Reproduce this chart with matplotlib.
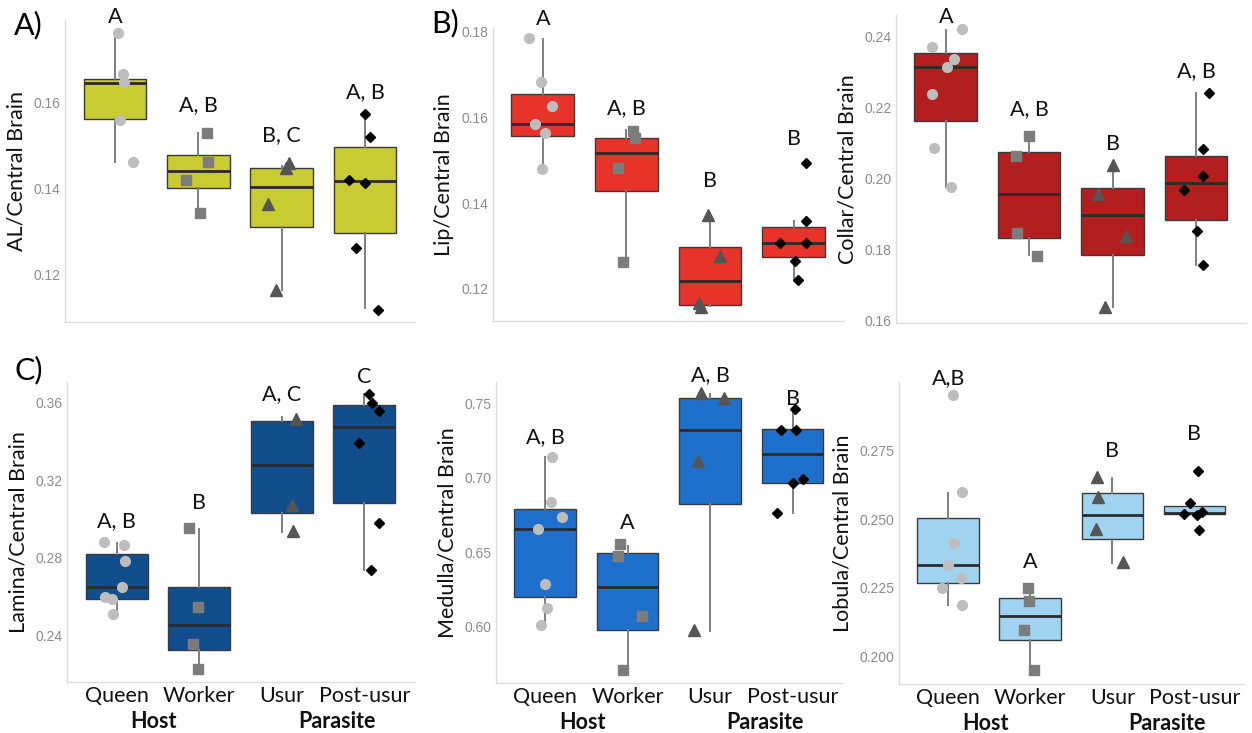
import matplotlib
matplotlib.use("Agg")
import matplotlib.pyplot as plt
import matplotlib.transforms as mtransforms

plt.rcParams['font.family'] = ['Lato', 'DejaVu Sans']

groups = ["Queen", "Worker", "Usur", "Post-usur"]

# AL / Central Brain
al_whislo = [0.1463, 0.1342, 0.1164, 0.1121]
al_q1 = [0.1563, 0.1402, 0.1311, 0.1297]
al_med = [0.1645, 0.1442, 0.1404, 0.1417]
al_q3 = [0.1655, 0.1478, 0.1449, 0.1497]
al_whishi = [0.1762, 0.1529, 0.1452, 0.1575]
al_pts = [[0.1763, 0.1668, 0.1649, 0.1561, 0.1463],
          [0.1530, 0.1461, 0.1420, 0.1342],
          [0.1459, 0.1449, 0.1365, 0.1164],
          [0.1575, 0.1521, 0.1420, 0.1414, 0.1261, 0.1118]]
al_jit = [[0.03, 0.10, 0.11, 0.06, 0.21],
          [0.10, 0.11, -0.15, 0.02],
          [0.09, 0.05, -0.16, -0.07],
          [0.0, 0.06, -0.19, 0.0, -0.11, 0.15]]
al_letters = ["A", "A, B", "B, C", "A, B"]
al_letter_y = [0.1800, 0.1595, 0.1525, 0.1626]

# Lip / Central Brain
lip_whislo = [0.1481, 0.1263, 0.1160, 0.1220]
lip_q1 = [0.1557, 0.1429, 0.1162, 0.1275]
lip_med = [0.1586, 0.1518, 0.1218, 0.1308]
lip_q3 = [0.1654, 0.1553, 0.1297, 0.1345]
lip_whishi = [0.1784, 0.1570, 0.1372, 0.1359]
lip_pts = [[0.1786, 0.1683, 0.1626, 0.1586, 0.1563, 0.1481],
           [0.1569, 0.1553, 0.1483, 0.1263],
           [0.1372, 0.1276, 0.1166, 0.1158],
           [0.1494, 0.1359, 0.1308, 0.1307, 0.1265, 0.1220]]
lip_jit = [[-0.16, -0.02, 0.11, -0.09, 0.03, -0.01],
           [0.08, 0.10, -0.10, -0.04],
           [-0.02, 0.12, -0.13, -0.11],
           [0.14, 0.14, -0.17, 0.14, 0.02, 0.05]]
lip_letters = ["A", "A, B", "B", "B"]
lip_letter_y = [0.1831, 0.1623, 0.1451, 0.1549]

# Collar / Central Brain
col_whislo = [0.1975, 0.1785, 0.1640, 0.1757]
col_q1 = [0.2161, 0.1832, 0.1785, 0.1882]
col_med = [0.2312, 0.1956, 0.1896, 0.1988]
col_q3 = [0.2351, 0.2075, 0.1974, 0.2064]
col_whishi = [0.2417, 0.2122, 0.2038, 0.2241]
col_pts = [[0.2420, 0.2368, 0.2335, 0.2312, 0.2236, 0.2085, 0.1975],
           [0.2120, 0.2063, 0.1846, 0.1783],
           [0.2038, 0.1956, 0.1839, 0.1638],
           [0.2241, 0.2083, 0.2008, 0.1968, 0.1851, 0.1757]]
col_jit = [[0.19, -0.16, 0.10, 0.01, -0.16, -0.14, 0.06],
           [0.0, -0.16, -0.15, 0.10],
           [0.01, -0.17, 0.16, -0.09],
           [0.16, 0.09, 0.09, -0.14, 0.01, 0.08]]
col_letters = ["A", "A, B", "B", "A, B"]
col_letter_y = [0.2454, 0.2194, 0.2097, 0.2302]

# Lamina / Central Brain
lam_whislo = [0.2508, 0.2228, 0.2934, 0.2736]
lam_q1 = [0.2589, 0.2322, 0.3032, 0.3083]
lam_med = [0.2650, 0.2452, 0.3281, 0.3476]
lam_q3 = [0.2822, 0.2650, 0.3507, 0.3588]
lam_whishi = [0.2879, 0.2951, 0.3528, 0.3648]
lam_pts = [[0.2880, 0.2865, 0.2782, 0.2650, 0.2598, 0.2586, 0.2508],
           [0.2956, 0.2546, 0.2357, 0.2228],
           [0.3519, 0.3071, 0.2939],
           [0.3645, 0.3600, 0.3557, 0.3393, 0.2980, 0.2736]]
lam_jit = [[-0.15, 0.09, 0.10, 0.06, -0.14, -0.06, -0.04],
           [-0.12, -0.02, -0.07, -0.02],
           [0.17, 0.12, 0.13],
           [0.05, 0.09, 0.18, -0.07, 0.18, 0.08]]
lam_letters = ["A, B", "B", "A, C", "C"]
lam_letter_y = [0.2989, 0.3083, 0.3648, 0.3734]

# Medulla / Central Brain
medu_whislo = [0.6011, 0.5709, 0.5966, 0.6761]
medu_q1 = [0.6201, 0.5973, 0.6824, 0.6969]
medu_med = [0.6654, 0.6268, 0.7321, 0.7160]
medu_q3 = [0.6788, 0.6497, 0.7538, 0.7328]
medu_whishi = [0.7142, 0.6542, 0.7567, 0.7466]
medu_pts = [[0.7142, 0.6839, 0.6739, 0.6654, 0.6286, 0.6123, 0.6011],
            [0.6555, 0.6474, 0.6067, 0.5709],
            [0.7572, 0.7538, 0.7113, 0.5977],
            [0.7466, 0.7325, 0.7321, 0.6992, 0.6963, 0.6761]]
medu_jit = [[0.09, 0.07, 0.20, -0.08, 0.0, 0.02, -0.05],
            [-0.09, -0.11, 0.17, -0.06],
            [-0.11, 0.17, -0.14, -0.19],
            [0.03, -0.14, 0.04, 0.13, 0.0, -0.19]]
medu_letters = ["A, B", "A", "A, B", "B"]
medu_letter_y = [0.7272, 0.6698, 0.7690, 0.7534]

# Lobula / Central Brain
lob_whislo = [0.2188, 0.1949, 0.2340, 0.2516]
lob_q1 = [0.2267, 0.2058, 0.2427, 0.2518]
lob_med = [0.2334, 0.2148, 0.2516, 0.2524]
lob_q3 = [0.2504, 0.2212, 0.2595, 0.2549]
lob_whishi = [0.2597, 0.2249, 0.2649, 0.2558]
lob_pts = [[0.2953, 0.2598, 0.2413, 0.2334, 0.2285, 0.2251, 0.2186],
           [0.2249, 0.2203, 0.2097, 0.1949],
           [0.2655, 0.2583, 0.2465, 0.2343],
           [0.2677, 0.2558, 0.2528, 0.2518, 0.2516, 0.2461]]
lob_jit = [[0.06, 0.17, 0.07, 0.0, 0.16, -0.07, 0.17],
           [-0.03, -0.02, -0.08, 0.05],
           [-0.18, -0.17, -0.20, 0.13],
           [0.04, -0.05, 0.10, -0.13, 0.03, 0.06]]
lob_letters = ["A,B", "A", "B", "B"]
lob_letter_y = [0.3016, 0.2343, 0.2750, 0.2813]

# marker style per group
markers = ['o', 's', '^', 'D']
mcolors = ['#BDBDBD', '#7C7C7C', '#555555', '#000000']
msizes = [7, 6.5, 8, 5.5]

W, H = 1252, 733
fig = plt.figure(figsize=(W / 100, H / 100), dpi=100)


def px_axes(left, right, top, bottom):
    return fig.add_axes([left / W, (H - bottom) / H, (right - left) / W, (bottom - top) / H])


def draw_panel(ax, whislo, q1, med, q3, whishi, pts, jit, letters, letter_y,
               color, ylim, yticks, ylabel, fmt, xlabels=False):
    stats = []
    for i in range(4):
        stats.append({'whislo': whislo[i], 'q1': q1[i], 'med': med[i],
                      'q3': q3[i], 'whishi': whishi[i], 'fliers': []})
    pos = [1, 2, 3, 4]
    ax.bxp(stats, positions=pos, widths=0.75, patch_artist=True,
           showfliers=False, showcaps=False,
           boxprops=dict(facecolor=color, edgecolor='#3a3a3a', linewidth=1.0),
           whiskerprops=dict(color='#7f7f7f', linewidth=1.4),
           medianprops=dict(color='#2b2b2b', linewidth=2.0))
    for i in range(4):
        xs = [pos[i] + j for j in jit[i]]
        ax.plot(xs, pts[i], linestyle='none', marker=markers[i],
                color=mcolors[i], markersize=msizes[i], zorder=5, clip_on=False)
        ax.text(pos[i], letter_y[i], letters[i], ha='center', va='center',
                fontsize=15.5, color='#111111', clip_on=False)
    ax.set_xlim(0.4, 4.6)
    ax.set_ylim(*ylim)
    ax.set_yticks(yticks)
    ax.set_yticklabels([fmt.format(t) for t in yticks], family='Liberation Sans',
                       fontsize=10, color='#8c8c8c')
    ax.set_ylabel(ylabel, fontsize=15.5, color='#111111', labelpad=5)
    ax.tick_params(length=0, pad=3)
    for s in ['top', 'right']:
        ax.spines[s].set_visible(False)
    for s in ['left', 'bottom']:
        ax.spines[s].set_color('#dcdcdc')
        ax.spines[s].set_linewidth(1.0)
    ax.set_xticks(pos)
    if xlabels:
        ax.set_xticklabels(groups, fontsize=15.5, color='#111111')
        ax.tick_params(axis='x', pad=3)
        trans = mtransforms.blended_transform_factory(ax.transData, ax.transAxes)
        ax.text(1.45, -0.13, "Host", transform=trans, ha='center', va='center',
                fontsize=15.5, fontweight='bold', color='#111111')
        ax.text(3.67, -0.13, "Parasite", transform=trans, ha='center', va='center',
                fontsize=15.5, fontweight='bold', color='#111111')
    else:
        ax.set_xticklabels([])


ax_a = px_axes(65, 415, 20, 322)
draw_panel(ax_a, al_whislo, al_q1, al_med, al_q3, al_whishi, al_pts, al_jit,
           al_letters, al_letter_y, '#C9CB32', (0.1089, 0.1793),
           [0.12, 0.14, 0.16], "AL/Central Brain", "{:.2f}")

ax_b = px_axes(492.5, 844, 28, 321)
draw_panel(ax_b, lip_whislo, lip_q1, lip_med, lip_q3, lip_whishi, lip_pts, lip_jit,
           lip_letters, lip_letter_y, '#E8332B', (0.1125, 0.1809),
           [0.12, 0.14, 0.16, 0.18], "Lip/Central Brain", "{:.2f}")

ax_c = px_axes(895.7, 1246, 15, 323)
draw_panel(ax_c, col_whislo, col_q1, col_med, col_q3, col_whishi, col_pts, col_jit,
           col_letters, col_letter_y, '#B31E1E', (0.1594, 0.2459),
           [0.16, 0.18, 0.20, 0.22, 0.24], "Collar/Central Brain", "{:.2f}")

ax_d = px_axes(67, 414, 382, 682)
draw_panel(ax_d, lam_whislo, lam_q1, lam_med, lam_q3, lam_whishi, lam_pts, lam_jit,
           lam_letters, lam_letter_y, '#124E8E', (0.2159, 0.3708),
           [0.24, 0.28, 0.32, 0.36], "Lamina/Central Brain", "{:.2f}", xlabels=True)

ax_e = px_axes(495.5, 842, 382, 683)
draw_panel(ax_e, medu_whislo, medu_q1, medu_med, medu_q3, medu_whishi, medu_pts, medu_jit,
           medu_letters, medu_letter_y, '#1F70CC', (0.5619, 0.7646),
           [0.60, 0.65, 0.70, 0.75], "Medulla/Central Brain", "{:.2f}", xlabels=True)

ax_f = px_axes(899, 1243.5, 382, 684)
draw_panel(ax_f, lob_whislo, lob_q1, lob_med, lob_q3, lob_whishi, lob_pts, lob_jit,
           lob_letters, lob_letter_y, '#A0D3F0', (0.1899, 0.3001),
           [0.200, 0.225, 0.250, 0.275], "Lobula/Central Brain", "{:.3f}", xlabels=True)

# panel tags
fig.text(14 / W, 1 - 25 / H, "A)", fontsize=22, ha='left', va='center')
fig.text(431 / W, 1 - 23 / H, "B)", fontsize=22, ha='left', va='center')
fig.text(14 / W, 1 - 370 / H, "C)", fontsize=22, ha='left', va='center')

fig.savefig("out.png", dpi=100)
